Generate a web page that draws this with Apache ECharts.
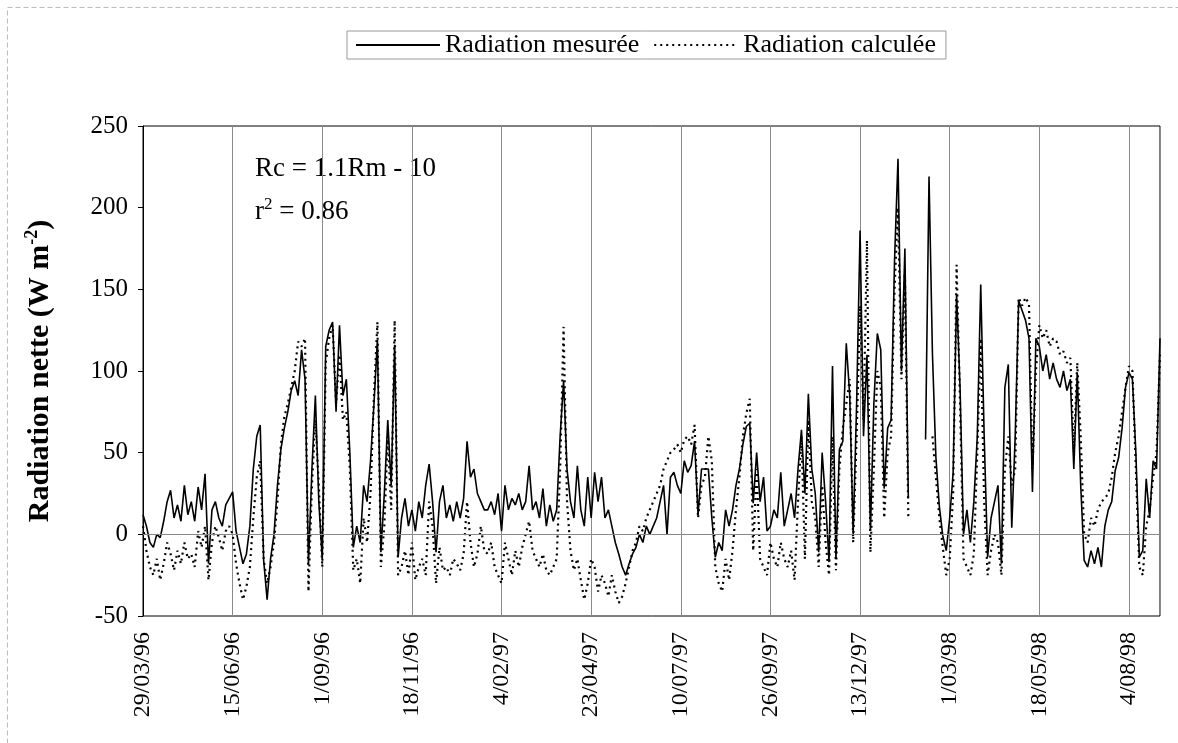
<!DOCTYPE html>
<html><head><meta charset="utf-8">
<script src="https://cdn.jsdelivr.net/npm/echarts@6/dist/echarts.min.js"></script>
<style>html,body{margin:0;padding:0;background:#fff}#c{width:1178px;height:743px}</style>
</head><body><div id="c"></div>
<script>
// ---- data (one sample every STEP days, day 0 = 29/03/96) ----
const STEP = 3;
const MAX_DAY = 885;
const TICK_EVERY = 78;
const tickLabels = ['29/03/96','15/06/96','1/09/96','18/11/96','4/02/97','23/04/97','10/07/97','26/09/97','13/12/97','1/03/98','18/05/98','4/08/98'];
const seriesNames = ['Radiation mesurée', 'Radiation calculée'];
const measured = [
  12, 5, -5, -8, 0, -2, 8, 20, 27, 10,
  18, 8, 30, 12, 20, 8, 29, 15, 37, -18,
  15, 20, 10, 5, 18, 22, 26, 2, -8, -18,
  -12, 5, 40, 60, 67, -16, -40, -15, 0, 30,
  52, 65, 75, 88, 94, 85, 113, 95, -18, 40,
  85, 20, -15, 115, 125, 130, 75, 128, 85, 95,
  50, -8, 5, -5, 30, 20, 45, 80, 119, -11,
  25, 70, 30, 116, -14, 10, 22, 5, 15, 2,
  20, 10, 30, 43, 20, -11, 20, 30, 10, 18,
  8, 20, 10, 22, 57, 35, 40, 25, 20, 15,
  15, 20, 12, 25, 2, 30, 15, 22, 18, 25,
  15, 20, 42, 15, 20, 10, 28, 5, 18, 8,
  15, 60, 94, 40, 20, 10, 42, 15, 5, 35,
  10, 38, 20, 35, 10, 15, 5, -5, -12, -20,
  -25, -18, -12, -8, 0, -5, 5, 0, 5, 10,
  20, 30, 0, 35, 38, 30, 25, 45, 38, 42,
  57, 12, 40, 40, 40, 10, -14, -5, -10, 15,
  5, 15, 30, 40, 55, 66, 68, 19, 50, 20,
  35, 2, 5, 15, 10, 38, 5, 15, 25, 10,
  40, 64, 25, 86, 40, 25, -11, 50, 20, -17,
  103, -15, 52, 57, 117, 85, 0, 80, 186, 60,
  110, 2, 80, 123, 113, 28, 65, 70, 168, 230,
  100, 175, 22, null, null, null, null, 58, 219, 110,
  47, 17, -1, -10, 10, 38, 147, 90, 0, 15,
  -5, 20, 60, 153, 60, -14, 10, 20, 30, -18,
  90, 104, 4, 60, 143, 137, 131, 120, 26, 120,
  115, 100, 110, 95, 105, 95, 90, 100, 88, 95,
  40, 99, 30, -16, -20, -10, -18, -8, -20, 5,
  15, 20, 39, 47, 65, 90, 99, 95, 50, -14,
  -10, 34, 10, 45, 40, 120
];
const calculated = [
  5, -10, -20, -25, -15, -28, -18, -5, -12, -22,
  -10, -18, -5, -15, -12, -20, 2, -8, 5, -28,
  -5, 5, -2, -10, 2, 5, 0, -18, -30, -40,
  -32, -20, 10, 35, 45, -15, -30, -20, -5, 20,
  55, 72, 80, 90, 100, 118, 115, 120, -35, 30,
  70, 30, -20, 105, 120, 128, 80, 110, 70, 75,
  40, -22, -15, -30, 10, -5, 25, 85, 130, -20,
  5, 60, 15, 131, -25, -20, -10, -25, -5, -28,
  -20, -15, -25, 20, 5, -30, -8, -22, -20, -25,
  -15, -18, -22, -12, 20, -5, -20, -12, 5, -10,
  -12, -5, -20, -25, -30, -5, -15, -25, -10, -20,
  -8, 0, 8, -10, -15, -20, -12, -22, -25, -20,
  -15, 40, 127, 20, -10, -22, -15, -28, -40, -30,
  -15, -20, -35, -25, -30, -38, -25, -35, -42, -38,
  -30, -20, -10, -5, 5, 2, 10, 15, 20, 25,
  30, 40, 45, 50, 52, 55, 50, 58, 60, 55,
  67, 10, 30, 35, 60, 45, -20, -30, -35, -15,
  -28, -10, 15, 35, 60, 74, 83, -10, 40, -15,
  -20, -25, -5, -15, -20, -5, -15, -20, -10, -28,
  20, 60, -15, 70, 20, 10, -20, 30, -5, -25,
  60, -22, 40, 65, 80, 95, -5, 60, 140, 70,
  180, -11, 40, 100, 90, 10, 50, 60, 150, 200,
  95, 160, 10, null, null, null, null, null, null, 60,
  35, 10, -8, -25, -15, 25, 165, 80, -15, -20,
  -25, -12, 50, 120, 20, -25, -10, 0, -5, -25,
  40, 60, 30, 40, 145, 140, 145, 141, 40, 100,
  128, 120, 125, 115, 120, 118, 110, 112, 105, 108,
  50, 105, 60, 0, -5, 10, 5, 15, 20, 22,
  25, 35, 50, 60, 75, 90, 103, 100, 40, -20,
  -25, 5, 15, 35, 50, 110
];

const FONT = 'Liberation Serif';
const toPairs = arr => arr.map((v, i) => [i * STEP, v]);

const chart = echarts.init(document.getElementById('c'), null, {renderer: 'canvas'});
chart.setOption({
  animation: false,
  backgroundColor: '#fff',
  textStyle: {fontFamily: FONT, color: '#000'},
  legend: {
    data: seriesNames,
    top: 31, left: 347,
    itemWidth: 84, itemHeight: 12, itemGap: 14,
    padding: [1, 10, 1, 8],
    borderColor: '#999', borderWidth: 1,
    itemStyle: {opacity: 0},
    textStyle: {fontFamily: FONT, fontSize: 26, color: '#000'}
  },
  grid: {left: 143, top: 126, right: 18, bottom: 127, show: true, borderColor: '#000', borderWidth: 1},
  xAxis: {
    type: 'value', min: 0, max: MAX_DAY, interval: TICK_EVERY,
    axisLine: {show: false}, axisTick: {show: false},
    splitLine: {show: true, lineStyle: {color: '#8a8a8a', width: 1}},
    axisLabel: {
      rotate: 90, margin: 16, fontFamily: FONT, fontSize: 24, color: '#000',
      showMaxLabel: false,
      formatter: v => (v % TICK_EVERY === 0 && tickLabels[v / TICK_EVERY]) || ''
    }
  },
  yAxis: {
    type: 'value', min: -50, max: 250, interval: 50,
    axisLine: {show: true, lineStyle: {color: '#000'}},
    axisTick: {show: true, length: 5, lineStyle: {color: '#000'}},
    splitLine: {show: false},
    axisLabel: {fontFamily: FONT, fontSize: 25, color: '#000', margin: 15},
    name: '{t|Radiation nette (W m}{s|-2}{t|)}',
    nameLocation: 'middle', nameGap: 86,
    nameTextStyle: {
      rich: {
        t: {fontFamily: FONT, fontSize: 30, fontWeight: 'bold', color: '#000'},
        s: {fontFamily: FONT, fontSize: 18, fontWeight: 'bold', color: '#000', padding: [0, 0, 16, 0]}
      }
    }
  },
  graphic: [
    {type: 'rect', silent: true, shape: {x: 7.5, y: 7.5, width: 1300, height: 900},
     style: {fill: 'none', stroke: '#bbb', lineWidth: 1, lineDash: [5, 3]}},
    {type: 'text', left: 255, top: 155, silent: true,
     style: {text: 'Rc = 1.1Rm - 10', font: '27px "Liberation Serif"', fill: '#000'}},
    {type: 'text', left: 255, top: 196, silent: true,
     style: {text: '{a|r}{s|2}{a| = 0.86}', fill: '#000',
       rich: {a: {font: '27px "Liberation Serif"', fill: '#000'},
              s: {font: '17px "Liberation Serif"', fill: '#000', padding: [0, 0, 14, 0]}}}}
  ],
  series: [
    {
      name: seriesNames[0], type: 'line', data: toPairs(measured),
      symbol: 'none', showSymbol: false, connectNulls: false, z: 3,
      lineStyle: {color: '#000', width: 1.6, type: 'solid'},
      itemStyle: {color: '#000'},
      markLine: {
        silent: true, symbol: ['none', 'none'], label: {show: false},
        lineStyle: {color: '#888', width: 1, type: 'solid'},
        data: [{yAxis: 0}]
      }
    },
    {
      name: seriesNames[1], type: 'line', data: toPairs(calculated),
      symbol: 'none', showSymbol: false, connectNulls: false, z: 2,
      lineStyle: {color: '#000', width: 2.2, type: [2, 4]},
      itemStyle: {color: '#000'}
    }
  ]
});
</script>
</body></html>
